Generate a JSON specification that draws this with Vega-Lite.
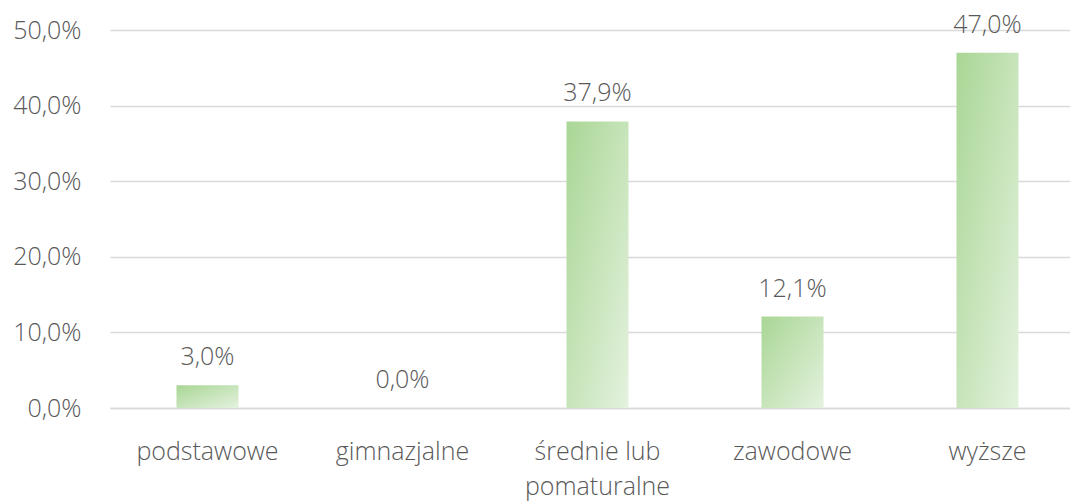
{
  "$schema": "https://vega.github.io/schema/vega-lite/v6.json",
  "width": 960,
  "height": 378,
  "autosize": {"type": "none"},
  "padding": {"left": 110, "top": 30, "right": 0, "bottom": 93},
  "background": "white",
  "config": {
    "view": {"stroke": null},
    "locale": {"number": {"decimal": ",", "thousands": " ", "grouping": [3], "currency": ["", " zł"]}},
    "font": "Open Sans",
    "axis": {"labelFont": "Open Sans", "labelFontWeight": 300, "labelColor": "#595959", "labelFontSize": 25}
  },
  "data": {
    "values": [
      {"kategoria": "podstawowe", "udzial": 0.030},
      {"kategoria": "gimnazjalne", "udzial": 0.000},
      {"kategoria": "średnie lub pomaturalne", "udzial": 0.379},
      {"kategoria": "zawodowe", "udzial": 0.121},
      {"kategoria": "wyższe", "udzial": 0.470}
    ]
  },
  "encoding": {
    "x": {
      "field": "kategoria",
      "type": "nominal",
      "sort": null,
      "scale": {"type": "band", "range": [0, 975], "paddingInner": 0.682, "paddingOuter": 0.341},
      "axis": {
        "title": null,
        "labelAngle": 0,
        "ticks": false,
        "domain": true,
        "domainColor": "#d9d9d9",
        "domainWidth": 1.5,
        "labelPadding": 31,
        "labelLineHeight": 35,
        "labelExpr": "datum.value == 'średnie lub pomaturalne' ? ['średnie lub', 'pomaturalne'] : datum.value"
      }
    },
    "y": {
      "field": "udzial",
      "type": "quantitative",
      "scale": {"domain": [0, 0.5], "nice": false},
      "axis": {
        "title": null,
        "format": ".1%",
        "values": [0, 0.1, 0.2, 0.3, 0.4, 0.5],
        "ticks": false,
        "domain": false,
        "grid": true,
        "gridColor": "#d9d9d9",
        "gridWidth": 1.5,
        "labelPadding": 29
      }
    }
  },
  "layer": [
    {
      "mark": {
        "type": "bar",
        "color": {
          "gradient": "linear",
          "x1": 0, "y1": 0, "x2": 1, "y2": 1,
          "stops": [
            {"offset": 0, "color": "#a9d695"},
            {"offset": 1, "color": "#e4f2de"}
          ]
        }
      }
    },
    {
      "mark": {
        "type": "text",
        "baseline": "alphabetic",
        "dy": -20,
        "font": "Open Sans",
        "fontWeight": 300,
        "fontSize": 25,
        "color": "#595959"
      },
      "encoding": {
        "text": {"field": "udzial", "type": "quantitative", "format": ".1%"}
      }
    }
  ]
}
